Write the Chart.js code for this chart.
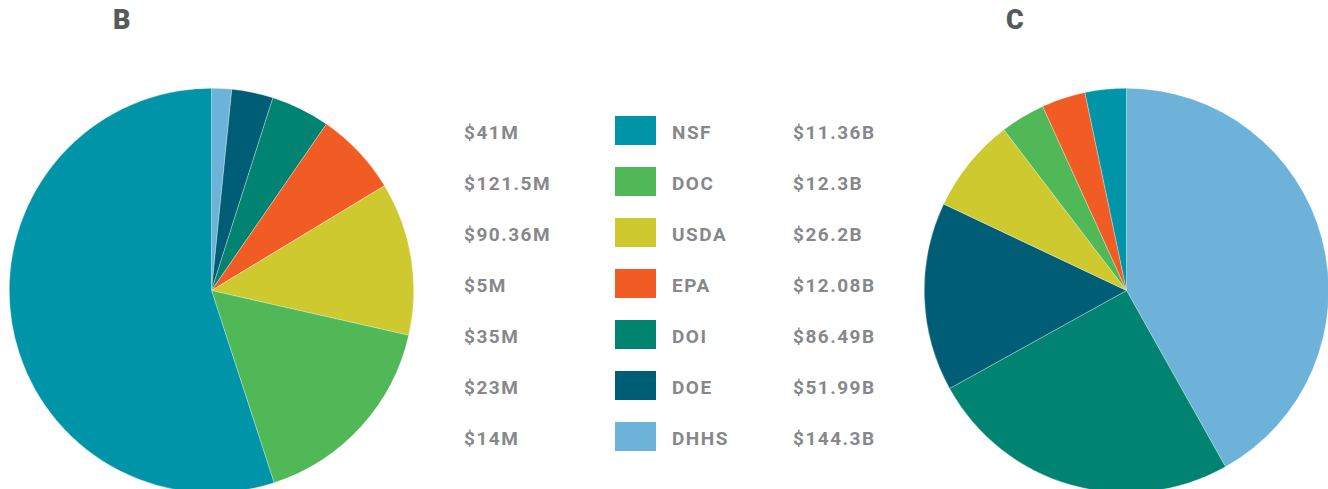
<!DOCTYPE html>
<html>
<head>
<meta charset="utf-8">
<script src="https://cdn.jsdelivr.net/npm/chart.js@4"></script>
<style>
  html, body { margin: 0; padding: 0; background: #fff; }
  body { width: 1328px; height: 489px; overflow: hidden; position: relative; font-family: Roboto, "DejaVu Sans", sans-serif; }
  .title { position: absolute; font-weight: 900; font-size: 27px; color: #58595b; line-height: 1; }
  .txt { position: absolute; font-weight: bold; font-size: 19px; letter-spacing: 1.5px; color: #87888c; height: 29px; line-height: 29px; white-space: nowrap; }
  .sw { position: absolute; width: 41px; height: 29px; }
  canvas { position: absolute; }
</style>
</head>
<body>
<div class="title" style="left:113px; top:7px;">B</div>
<div class="title" style="left:1006px; top:7px;">C</div>
<canvas id="pieB" width="405" height="405" style="left:8.5px; top:87.5px;"></canvas>
<canvas id="pieC" width="405" height="405" style="left:923.5px; top:87.5px;"></canvas>
<div id="legend"></div>
<script>
// legend order, top to bottom
var agencies = ['NSF', 'DOC', 'USDA', 'EPA', 'DOI', 'DOE', 'DHHS'];
var colors = ['#0094a9', '#50b857', '#cdc92e', '#f15c25', '#008370', '#005d76', '#6db2d8'];
var labelsB = ['$41M', '$121.5M', '$90.36M', '$5M', '$35M', '$23M', '$14M'];
var labelsC = ['$11.36B', '$12.3B', '$26.2B', '$12.08B', '$86.49B', '$51.99B', '$144.3B'];

// slice shares of pie B (percent), legend order
var sharesB = [54.9, 16.4, 12.2, 6.7, 4.7, 3.3, 1.6];
// pie C values in $B, legend order
var valuesC = [11.36, 12.3, 26.2, 12.08, 86.49, 51.99, 144.3];

// clockwise order of slices from 12 o'clock (indexes into agencies)
var orderB = [6, 5, 4, 3, 2, 1, 0];
var orderC = [6, 4, 5, 2, 1, 3, 0];

var legend = document.getElementById('legend');
var html = '';
for (var i = 0; i < agencies.length; i++) {
    var rowTop = 116 + 51 * i;
    html +=
        '<div class="txt" style="left:464px; top:' + (rowTop + 2) + 'px">' + labelsB[i] + '</div>' +
        '<div class="sw" style="left:615px; top:' + rowTop + 'px; background:' + colors[i] + '"></div>' +
        '<div class="txt" style="left:672px; top:' + (rowTop + 2) + 'px">' + agencies[i] + '</div>' +
        '<div class="txt" style="left:793px; top:' + (rowTop + 2) + 'px">' + labelsC[i] + '</div>';
}
legend.innerHTML = html;

function pie(id, values, order) {
    var ctx = document.getElementById(id).getContext('2d');
    new Chart(ctx, {
        type: 'pie',
        data: {
            labels: order.map(function (k) { return agencies[k]; }),
            datasets: [{
                data: order.map(function (k) { return values[k]; }),
                backgroundColor: order.map(function (k) { return colors[k]; }),
                borderColor: 'rgba(255,255,255,0.6)',
                borderWidth: 0.5,
                hoverOffset: 0
            }]
        },
        options: {
            responsive: false,
            animation: false,
            layout: { padding: 0 },
            plugins: { legend: { display: false }, tooltip: { enabled: false } }
        }
    });
}
pie('pieB', sharesB, orderB);
pie('pieC', valuesC, orderC);
</script>
</body>
</html>
